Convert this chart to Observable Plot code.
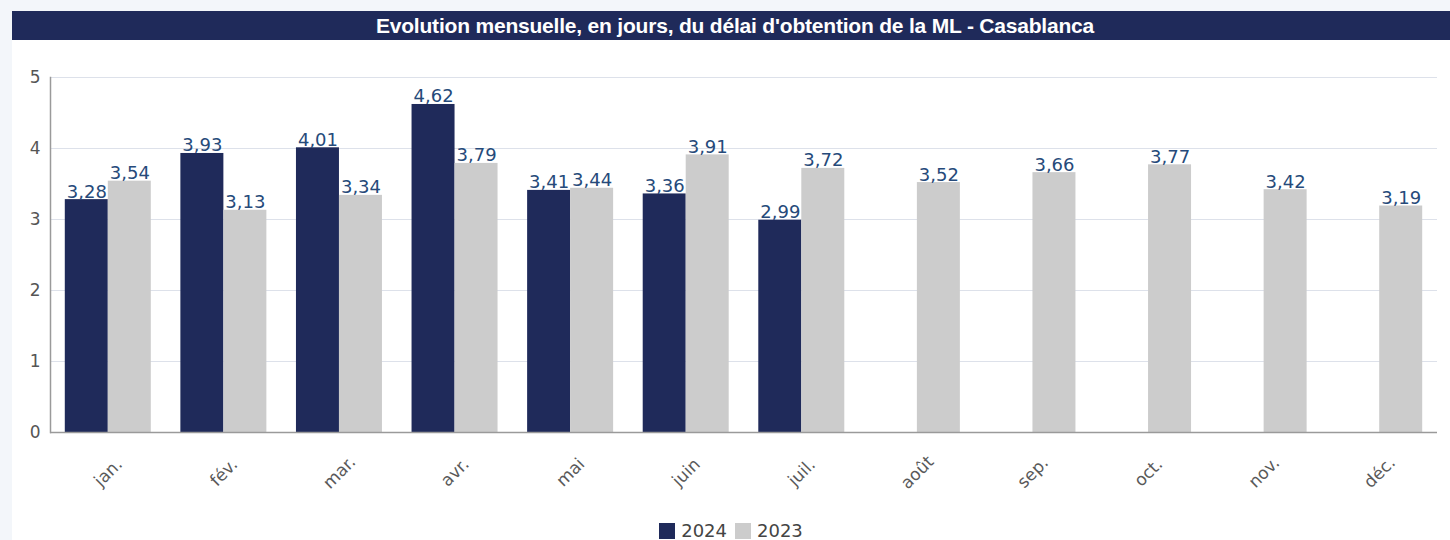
<!DOCTYPE html>
<html>
<head>
<meta charset="utf-8">
<script src="https://cdn.jsdelivr.net/npm/d3@7"></script>
<script src="https://cdn.jsdelivr.net/npm/@observablehq/plot@0.6"></script>
<style>
  html, body { margin: 0; padding: 0; background: #f3f6fa; width: 1450px; height: 540px; overflow: hidden; }
  #wrap { position: absolute; left: 12px; top: 11px; width: 1438px; height: 529px; background: #ffffff; }
  #title { height: 29px; line-height: 30px; background: #1f2a5a; color: #ffffff; text-align: center; padding-left: 8px; box-sizing: border-box;
           font-family: "Liberation Sans", Arial, sans-serif; font-weight: bold; font-size: 21px; letter-spacing: -0.2px; }
  #legend { display: flex; justify-content: center; align-items: center; gap: 8px; padding-top: 10px;
            font-family: "DejaVu Sans", sans-serif; font-size: 18px; color: #444; }
  .item { display: flex; align-items: center; gap: 6px; }
  .sw { width: 16px; height: 16px; display: inline-block; }
</style>
</head>
<body>
<div id="wrap">
  <div id="title">Evolution mensuelle, en jours, du délai d'obtention de la ML - Casablanca</div>
  <div id="chart"></div>
  <div id="legend"></div>
</div>
<script>
const months = ["jan.","fév.","mar.","avr.","mai","juin","juil.","août","sep.","oct.","nov.","déc."];
const values2024 = [3.28, 3.93, 4.01, 4.62, 3.41, 3.36, 2.99, null, null, null, null, null];
const values2023 = [3.54, 3.13, 3.34, 3.79, 3.44, 3.91, 3.72, 3.52, 3.66, 3.77, 3.42, 3.19];
const seriesNames = ["2024", "2023"];
const seriesColors = ["#1f2a5a", "#cccccc"];
const yTicks = [0, 1, 2, 3, 4, 5];

const data2024 = months.map((m, i) => ({month: m, value: values2024[i]})).filter(d => d.value != null);
const data2023 = months.map((m, i) => ({month: m, value: values2023[i]})).filter(d => d.value != null);
const fmt = v => v.toFixed(2).replace(".", ",");
const half = 21.5;

const plot = Plot.plot({
  width: 1438,
  height: 470,
  marginTop: 37,
  marginBottom: 78,
  marginLeft: 38,
  marginRight: 13,
  style: {fontFamily: "DejaVu Sans, sans-serif", background: "#ffffff", overflow: "visible"},
  x: {type: "band", domain: months, paddingInner: 0.628, paddingOuter: 0.314, round: false, label: null},
  y: {domain: [0, 5], ticks: yTicks, label: null},
  marks: [
    Plot.gridY(yTicks.filter(t => t > 0), {stroke: "#dde1ea", strokeOpacity: 1}),
    Plot.barY(data2024, {x: "month", y: "value", fill: seriesColors[0], dx: -half}),
    Plot.barY(data2023, {x: "month", y: "value", fill: seriesColors[1], dx: half}),
    Plot.ruleY([0], {stroke: "#9a9a9a", strokeWidth: 1.5}),
    Plot.frame({anchor: "left", stroke: "#9a9a9a", strokeWidth: 1.5}),
    Plot.text(data2024, {x: "month", y: "value", text: d => fmt(d.value), dx: -half, dy: -2, lineAnchor: "bottom",
      fill: "#264a7a", fontSize: 18}),
    Plot.text(data2023, {x: "month", y: "value", text: d => fmt(d.value), dx: half, dy: -2, lineAnchor: "bottom",
      fill: "#264a7a", fontSize: 18}),
    Plot.axisY(yTicks, {tickSize: 0, tickPadding: 10, fontSize: 17, fill: "#555555", label: null, tickFormat: d => String(d)}),
    Plot.axisX({tickSize: 0, tickPadding: 40, tickRotate: -45, textAnchor: "middle", lineAnchor: "middle",
      fontSize: 17, fill: "#595959", label: null})
  ]
});
document.getElementById("chart").appendChild(plot);

const legend = document.getElementById("legend");
seriesNames.forEach((name, i) => {
  const item = document.createElement("div");
  item.className = "item";
  const sw = document.createElement("span");
  sw.className = "sw";
  sw.style.background = seriesColors[i];
  const label = document.createElement("span");
  label.textContent = name;
  item.appendChild(sw);
  item.appendChild(label);
  legend.appendChild(item);
});
</script>
</body>
</html>
